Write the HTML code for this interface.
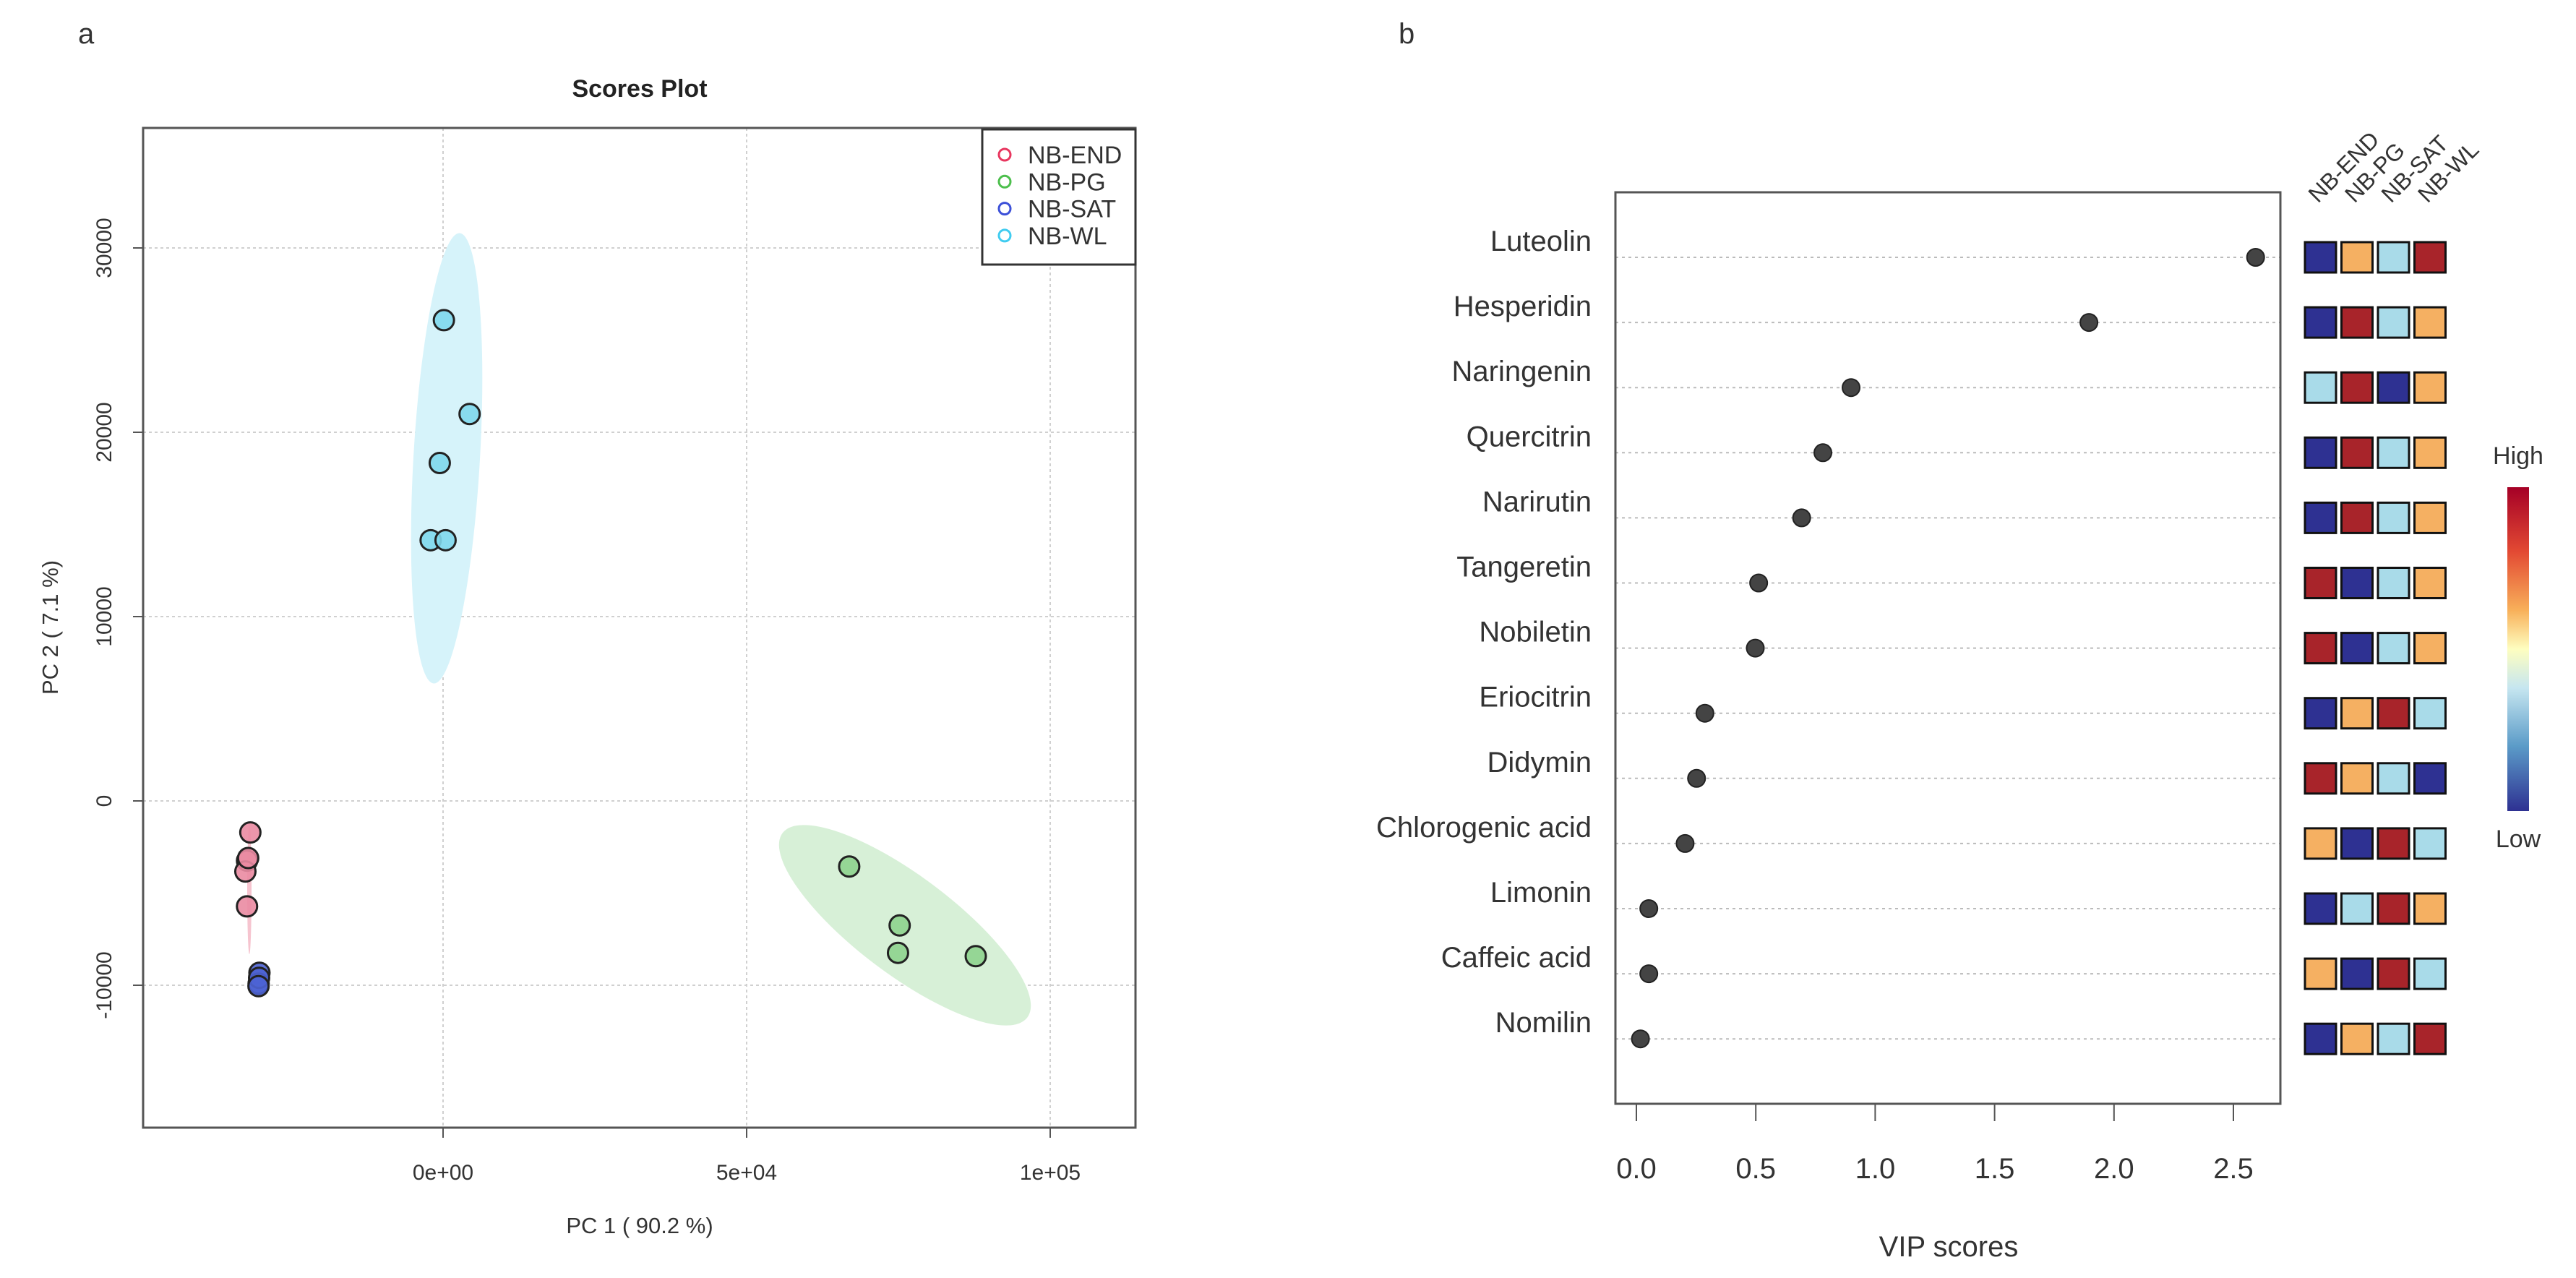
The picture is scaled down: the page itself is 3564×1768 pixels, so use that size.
<!DOCTYPE html>
<html><head><meta charset="utf-8"><style>
html,body{margin:0;padding:0;background:#fff}
svg{display:block;font-family:"Liberation Sans",sans-serif}
</style></head><body>
<svg id="fig" width="3564" height="1768" viewBox="0 0 3564 1768" xmlns="http://www.w3.org/2000/svg">
<text x="108" y="60" font-size="40" fill="#333">a</text>
<text x="1935" y="60" font-size="40" fill="#333">b</text>
<g id="pa"></g>
<g id="pb"></g>
</svg>
<script>
// ---- Scores plot data ----
const groups = ["NB-END","NB-PG","NB-SAT","NB-WL"];
const endX = [-31744,-32289,-32561,-32289,-32100];
const endY = [-1712,-3243,-3829,-5720,-3100];
const pgX = [66894,75204,74932,87738];
const pgY = [-3559,-6757,-8243,-8423];
const satX = [-30245,-30381,-30300,-30400];
const satY = [-9324,-9910,-9600,-10050];
const wlX = [136,4370,-545,-2044,409];
const wlY = [26081,20990,18333,14144,14144];
const xTicks = [0,50000,100000];
const xTickLabels = ["0e+00","5e+04","1e+05"];
const yTicks = [-10000,0,10000,20000,30000];

// ---- VIP data ----
const compounds = ["Luteolin","Hesperidin","Naringenin","Quercitrin","Narirutin","Tangeretin","Nobiletin","Eriocitrin","Didymin","Chlorogenic acid","Limonin","Caffeic acid","Nomilin"];
const vipScores = [2.593,1.895,0.899,0.781,0.692,0.512,0.498,0.287,0.252,0.204,0.052,0.052,0.017];
const vipTicks = [0,0.5,1.0,1.5,2.0,2.5];
const heatLevels = [
 ["B","O","L","R"],["B","R","L","O"],["L","R","B","O"],["B","R","L","O"],["B","R","L","O"],
 ["R","B","L","O"],["R","B","L","O"],["B","O","R","L"],["R","O","L","B"],["O","B","R","L"],
 ["B","L","R","O"],["O","B","R","L"],["B","O","L","R"]];

const NS="http://www.w3.org/2000/svg";
function mk(parent,tag,attrs,text){const e=document.createElementNS(NS,tag);for(const k in attrs)e.setAttribute(k,attrs[k]);if(text!==undefined)e.textContent=text;parent.appendChild(e);return e;}

// ---------- Panel A ----------
const pa=document.getElementById('pa');
const L=198,R=1571,T=177,B=1560;
const sx=v=>613+v*(1453-613)/100000;
const sy=v=>1108-v*(1108-853)/10000;
let t=mk(pa,'text',{x:885,y:134,'font-size':34,'font-weight':'bold','text-anchor':'middle',fill:'#222'},'Scores Plot');


// grid
xTicks.forEach(v=>{const g=mk(pa,'line',{x1:sx(v),x2:sx(v),y1:T,y2:B,stroke:'#d0d0d0','stroke-width':2,'stroke-dasharray':'4,4'});

});
yTicks.forEach(v=>{const g=mk(pa,'line',{x1:L,x2:R,y1:sy(v),y2:sy(v),stroke:'#d0d0d0','stroke-width':2,'stroke-dasharray':'4,4'});

});
// ellipses
function ell(cx,cy,rx,ry,ang,fill,name){const e=mk(pa,'ellipse',{cx:cx,cy:cy,rx:rx,ry:ry,transform:`rotate(${ang} ${cx} ${cy})`,fill:fill});

}
ell(618,634,46,312,3.3,'#d6f3fa','wl-ellipse');
ell(1252,1280,212,68,37,'#d7f0d7','pg-ellipse');
ell(345,1230,3,90,0,'#f6c4cf','end-ellipse');
// points
function pts(xs,ys,fill,name){xs.forEach((x,i)=>{const c=mk(pa,'circle',{cx:sx(x),cy:sy(ys[i]),r:14,fill:fill,stroke:'#222','stroke-width':3,'fill-opacity':0.9});

});}
pts(endX,endY,'#ea8ba2','point-nb-end');
pts(satX,satY,'#4d63d4','point-nb-sat');
pts(pgX,pgY,'#8ed38e','point-nb-pg');
pts(wlX,wlY,'#80d8ec','point-nb-wl');
// box
let bx=mk(pa,'rect',{x:L,y:T,width:R-L,height:B-T,fill:'none',stroke:'#555','stroke-width':3});


// ticks
xTicks.forEach((v,i)=>{mk(pa,'line',{x1:sx(v),x2:sx(v),y1:B,y2:B+14,stroke:'#555','stroke-width':2});
const tl=mk(pa,'text',{x:sx(v),y:1632,'font-size':30,'text-anchor':'middle',fill:'#333'},xTickLabels[i]);

});
yTicks.forEach(v=>{mk(pa,'line',{x1:L-14,x2:L,y1:sy(v),y2:sy(v),stroke:'#555','stroke-width':2});
const tl=mk(pa,'text',{x:154,y:sy(v),'font-size':30,'text-anchor':'middle',fill:'#333',transform:`rotate(-90 154 ${sy(v)})`},String(v));

});
t=mk(pa,'text',{x:885,y:1706,'font-size':31,'text-anchor':'middle',fill:'#333'},'PC 1 ( 90.2 %)');


t=mk(pa,'text',{x:80,y:868,'font-size':31,'text-anchor':'middle',fill:'#333',transform:'rotate(-90 80 868)'},'PC 2 ( 7.1 %)');


// legend
let lg=mk(pa,'rect',{x:1359,y:179,width:212,height:187,fill:'#fff',stroke:'#333','stroke-width':3});


const legCols=['#e8365f','#4cbf4c','#3c50d8','#40ccf0'];
groups.forEach((g,i)=>{const y=214+i*37.3;
mk(pa,'circle',{cx:1390,cy:y,r:8,fill:'none',stroke:legCols[i],'stroke-width':3});
const tx=mk(pa,'text',{x:1422,y:y+12,'font-size':34,fill:'#333'},g);

});

// ---------- Panel B ----------
const pb=document.getElementById('pb');
const BL=2235,BR=3155,BT=266,BB=1527;
const vx=v=>2264+v*(3090-2264)/2.5;
const rowY=i=>356+i*90.1;
const heatCol={B:'#2e3192',O:'#f5b062',L:'#a9dbe9',R:'#a8242a'};
compounds.forEach((c,i)=>{const y=rowY(i);
const gl=mk(pb,'line',{x1:BL,x2:BR,y1:y,y2:y,stroke:'#bbb','stroke-width':2,'stroke-dasharray':'4,5'});


const lb=mk(pb,'text',{x:2202,y:y-9,'font-size':40,'text-anchor':'end',fill:'#333'},c);


const d=mk(pb,'circle',{cx:vx(vipScores[i]),cy:y,r:12,fill:'#444',stroke:'#222','stroke-width':2});


heatLevels[i].forEach((lv,j)=>{const s=mk(pb,'rect',{x:3189+j*50.5,y:y-21,width:43,height:42,fill:heatCol[lv],stroke:'#111','stroke-width':3});

});
});
bx=mk(pb,'rect',{x:BL,y:BT,width:BR-BL,height:BB-BT,fill:'none',stroke:'#555','stroke-width':3});


vipTicks.forEach(v=>{mk(pb,'line',{x1:vx(v),x2:vx(v),y1:BB,y2:BB+24,stroke:'#555','stroke-width':2});
const tl=mk(pb,'text',{x:vx(v),y:1630,'font-size':40,'text-anchor':'middle',fill:'#333'},v.toFixed(1));

});
t=mk(pb,'text',{x:2696,y:1738,'font-size':40,'text-anchor':'middle',fill:'#333'},'VIP scores');


groups.forEach((g,j)=>{const x=3207+j*50.5,y=282;
const tx=mk(pb,'text',{x:x,y:y,'font-size':32,fill:'#333',transform:`rotate(-45 ${x} ${y})`},g);

});
// colorbar
const defs=mk(pb,'defs',{});
const grad=mk(defs,'linearGradient',{id:'cb',x1:0,y1:0,x2:0,y2:1});
[['0','#a50026'],['0.2','#e34a33'],['0.38','#f8b05a'],['0.5','#fefec0'],['0.62','#c6e6f0'],['0.8','#5b9bc8'],['1','#2e3192']].forEach(s=>mk(grad,'stop',{offset:s[0],'stop-color':s[1]}));
const cb=mk(pb,'rect',{x:3469,y:674,width:30,height:448,fill:'url(#cb)'});


t=mk(pb,'text',{x:3484,y:642,'font-size':34,'text-anchor':'middle',fill:'#333'},'High');


t=mk(pb,'text',{x:3484,y:1172,'font-size':34,'text-anchor':'middle',fill:'#333'},'Low');


</script>
</body></html>
